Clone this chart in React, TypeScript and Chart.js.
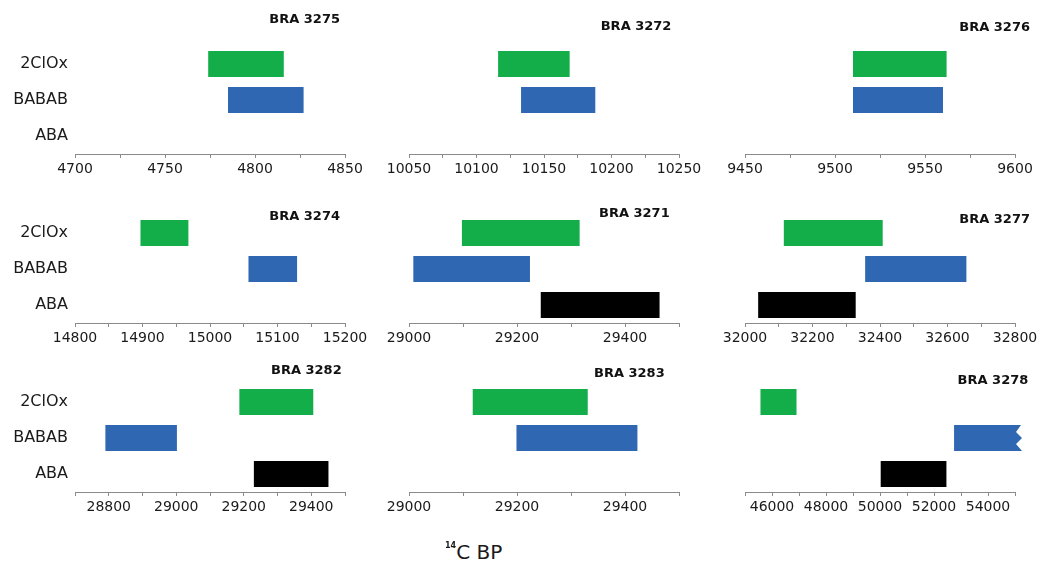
import React, { useEffect, useRef } from 'react';
import { Chart, registerables } from 'chart.js';

Chart.register(...registerables);

// ---------- data ----------
const CATEGORIES = ['2ClOx', 'BABAB', 'ABA'];
const SAMPLE_IDS = ['BRA 3275', 'BRA 3272', 'BRA 3276', 'BRA 3274', 'BRA 3271', 'BRA 3277', 'BRA 3282', 'BRA 3283', 'BRA 3278'];
type Range = [number, number] | null;
const CLOX_RANGES: Range[] = [[4774, 4816], [10116, 10169], [9510, 9562], [14897, 14968], [29098, 29316], [32115, 32408], [29187, 29406], [29118, 29331], [45573, 46908]];
const BABAB_RANGES: Range[] = [[4785, 4827], [10133, 10188], [9510, 9560], [15057, 15129], [29008, 29224], [32356, 32656], [28790, 29002], [29199, 29423], [52743, 55000]];
const ABA_RANGES: Range[] = [null, null, null, null, [29244, 29464], [32039, 32328], [29230, 29451], null, [50026, 52460]];
const AXIS_MIN = [4700, 10050, 9450, 14800, 29000, 32000, 28700, 29000, 45000];
const AXIS_MAX = [4850, 10250, 9600, 15200, 29500, 32800, 29500, 29500, 55000];
const TICK_STEP = [25, 25, 25, 50, 100, 100, 100, 100, 1000];
const LABEL_STEP = [50, 50, 50, 100, 200, 200, 200, 200, 2000];
// which category's range continues beyond the axis (drawn with a broken end)
const OPEN_ENDED: (string | null)[] = [null, null, null, null, null, null, null, null, 'BABAB'];
const X_TITLE_SUP = '14';
const X_TITLE = 'C BP';

// ---------- layout / style ----------
const FONT = '"DejaVu Sans", "Liberation Sans", Arial, sans-serif';
const COLORS = ['#13ad4a', '#2f67b3', '#000000'];
const COL_LEFT = [75, 409, 745];
const COL_RIGHT = [345, 679, 1015];
const ROW_TOP = [46, 215, 384];
const PLOT_H = 108;
const PAD_TOP = 46;
const X_AXIS_H = 30;
const PAD_BOTTOM = 4;
const COL_PAD_LEFT = [75, 40, 40];
const COL_PAD_RIGHT = [32, 32, 32];
const TITLE_DX = [-5, -7.6, 15, -5, -9.3, 15, -3.3, -14.3, 13.3];
const TITLE_DY = [-26.5, -19, -18, 2, -1.7, 5, -13.3, -10.3, -3.3];

const panelDecor = {
  id: 'panelDecor',
  afterDatasetsDraw(chart: any, _args: any, opts: any) {
    const { ctx, chartArea } = chart;
    ctx.save();
    if (opts.openIndex != null && opts.openIndex >= 0) {
      const el: any = chart.getDatasetMeta(0).data[opts.openIndex];
      if (el) {
        const p = el.getProps(['x', 'y', 'base', 'height'], true);
        const xe = Math.max(p.x, p.base);
        const top = p.y - p.height / 2;
        const h = p.height;
        ctx.fillStyle = opts.openColor;
        ctx.beginPath();
        ctx.moveTo(xe - 1, top);
        ctx.lineTo(xe + 6, top);
        ctx.lineTo(xe + 1, top + h * 0.27);
        ctx.lineTo(xe + 7, top + h * 0.5);
        ctx.lineTo(xe + 1, top + h * 0.73);
        ctx.lineTo(xe + 7, top + h);
        ctx.lineTo(xe - 1, top + h);
        ctx.closePath();
        ctx.fill();
      }
    }
    // category labels (left column only), placed through the y scale
    if (opts.showCategories) {
      const yScale = chart.scales.y;
      ctx.font = `16px ${FONT}`;
      ctx.textAlign = 'right';
      ctx.textBaseline = 'middle';
      ctx.fillStyle = '#1a1a1a';
      chart.data.labels.forEach((lab: string, i: number) => {
        ctx.fillText(lab, chartArea.left - 7, yScale.getPixelForValue(i));
      });
    }
    ctx.font = `bold 13px ${FONT}`;
    ctx.textAlign = 'right';
    ctx.textBaseline = 'middle';
    ctx.fillStyle = '#111111';
    ctx.fillText(opts.title, chartArea.right + opts.dx, chartArea.top + opts.dy);
    ctx.restore();
  },
};

function Panel({ index }: { index: number }) {
  const ref = useRef<HTMLCanvasElement>(null);
  const col = index % 3;
  const row = Math.floor(index / 3);
  const padL = COL_PAD_LEFT[col];
  const padR = COL_PAD_RIGHT[col];
  const left = COL_LEFT[col] - padL;
  const width = padL + (COL_RIGHT[col] - COL_LEFT[col]) + padR;
  const top = ROW_TOP[row] - PAD_TOP;
  const height = PAD_TOP + PLOT_H + X_AXIS_H + PAD_BOTTOM;
  const showY = col === 0;

  useEffect(() => {
    if (!ref.current) return;
    const data = [CLOX_RANGES[index], BABAB_RANGES[index], ABA_RANGES[index]];
    const openCat = OPEN_ENDED[index];
    const openIndex = openCat ? CATEGORIES.indexOf(openCat) : -1;
    const labelStep = LABEL_STEP[index];
    const chart = new Chart(ref.current, {
      type: 'bar',
      data: {
        labels: CATEGORIES,
        datasets: [
          {
            data: data as any,
            backgroundColor: COLORS,
            borderWidth: 0,
            barPercentage: 26 / 36,
            categoryPercentage: 1,
          },
        ],
      },
      options: {
        indexAxis: 'y',
        responsive: false,
        animation: false,
        devicePixelRatio: 1,
        layout: { padding: { left: padL, right: padR, top: PAD_TOP, bottom: PAD_BOTTOM } },
        plugins: {
          legend: { display: false },
          tooltip: { enabled: false },
          title: { display: false },
          panelDecor: {
            title: SAMPLE_IDS[index],
            dx: TITLE_DX[index],
            dy: TITLE_DY[index],
            openIndex,
            openColor: openIndex >= 0 ? COLORS[openIndex] : null,
            showCategories: showY,
          },
        } as any,
        scales: {
          x: {
            type: 'linear',
            min: AXIS_MIN[index],
            max: AXIS_MAX[index],
            afterFit: (scale: any) => {
              scale.height = X_AXIS_H;
            },
            border: { display: true, color: '#8a8a8a', width: 1 },
            grid: { display: true, drawOnChartArea: false, drawTicks: true, tickLength: 4, color: '#8a8a8a' },
            ticks: {
              stepSize: TICK_STEP[index],
              autoSkip: false,
              maxRotation: 0,
              padding: 3,
              color: '#1a1a1a',
              font: { family: FONT, size: 14 },
              callback: (v: any) => {
                const n = Math.round(Number(v));
                return n % labelStep === 0 ? String(n) : '';
              },
            },
          },
          y: {
            type: 'category',
            display: false,
            grid: { display: false, drawTicks: false },
            border: { display: false },
          },
        },
      },
      plugins: [panelDecor as any],
    });
    return () => chart.destroy();
  }, [index]);

  return (
    <canvas
      ref={ref}
      width={width}
      height={height}
      style={{ position: 'absolute', left, top, width, height }}
    />
  );
}

export default function App() {
  useEffect(() => {
    document.body.style.margin = '0';
  }, []);
  return (
    <div style={{ position: 'absolute', left: 0, top: 0, width: 1038, height: 564, background: '#ffffff', overflow: 'hidden' }}>
      {SAMPLE_IDS.map((_, i) => (
        <Panel key={i} index={i} />
      ))}
      <div
        style={{
          position: 'absolute',
          left: 445,
          top: 542,
          fontFamily: FONT,
          fontSize: 20,
          lineHeight: '20px',
          color: '#1a1a1a',
          whiteSpace: 'nowrap',
        }}
      >
        <span style={{ fontSize: 8, position: 'relative', top: -11, fontWeight: 'bold' }}>{X_TITLE_SUP}</span>
        <span>{X_TITLE}</span>
      </div>
    </div>
  );
}
